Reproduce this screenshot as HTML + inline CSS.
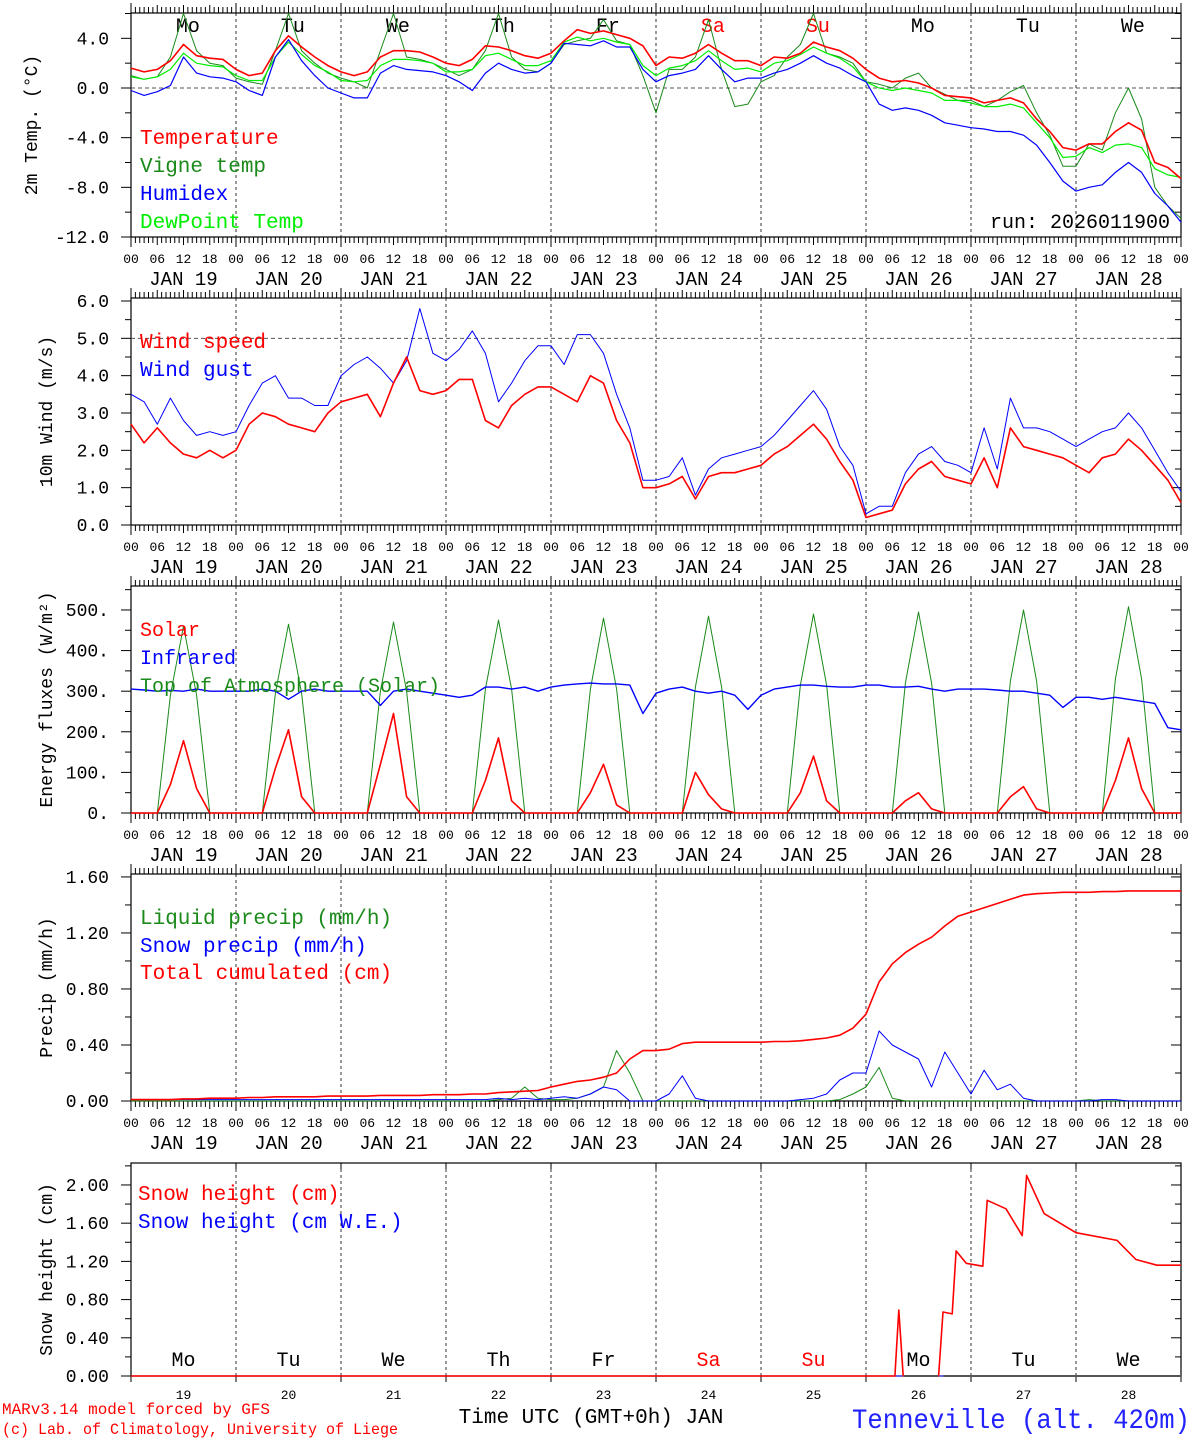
<!DOCTYPE html>
<html><head><meta charset="utf-8">
<style>
html,body{margin:0;padding:0;background:#fff;}
svg{display:block;font-family:"Liberation Mono",monospace;}
</style></head>
<body>
<svg id="chart" width="1194" height="1440" viewBox="0 0 1194 1440" xmlns="http://www.w3.org/2000/svg"></svg>
<script>
// ---------- DATA (3-hourly from Jan 19 00 UTC, 81 points) ----------
const days = ["19","20","21","22","23","24","25","26","27","28"];
const weekdays = ["Mo","Tu","We","Th","Fr","Sa","Su","Mo","Tu","We"];
const weekdayRed = [false,false,false,false,false,true,true,false,false,false];

const temperature = [1.6,1.3,1.5,2.2,3.5,2.6,2.4,2.3, 1.5,1.0,1.2,3.0,4.2,3.3,2.5,1.8, 1.3,1.0,1.3,2.5,3.0,3.0,2.9,2.5, 2.0,1.8,2.3,3.4,3.3,3.0,2.6,2.4, 2.8,3.8,4.7,4.4,4.6,4.3,4.0,3.4, 1.8,2.5,2.4,2.8,3.5,2.8,2.2,2.2, 1.8,2.5,2.4,2.8,3.7,3.3,3.0,2.4, 1.5,0.8,0.5,0.6,0.4,0.0,-0.6,-0.7, -0.8,-1.2,-1.0,-0.8,-1.2,-2.5,-3.5,-4.8, -5.0,-4.5,-4.5,-3.5,-2.8,-3.4,-6.0,-6.4, -7.3];
const vigneTemp = [1.0,0.7,0.9,2.5,6.0,3.0,2.0,1.8, 0.8,0.5,0.3,3.0,6.0,3.0,2.0,1.2, 0.8,0.5,0.0,3.0,6.0,2.5,2.3,2.0, 1.5,1.0,1.5,3.0,6.0,2.5,1.5,1.3, 2.0,3.5,3.8,4.0,5.5,3.8,3.5,1.0, -2.0,1.5,1.5,2.5,5.5,1.5,-1.5,-1.3, 0.5,1.0,2.5,3.5,6.0,2.8,2.5,2.0, 0.5,0.3,0.0,0.8,1.2,0.0,-0.5,-1.0, -1.0,-1.5,-1.0,-0.3,0.2,-2.0,-3.8,-6.3, -6.3,-4.5,-5.0,-2.0,0.0,-2.5,-8.0,-9.5, -10.5];
const humidex = [-0.2,-0.6,-0.3,0.2,2.5,1.2,0.9,0.8, 0.5,-0.2,-0.6,2.5,3.9,2.2,1.0,0.0, -0.4,-0.8,-0.8,1.2,1.8,1.5,1.4,1.3, 1.0,0.5,-0.2,1.2,2.0,1.5,1.2,1.3, 2.0,3.6,3.5,3.4,3.8,3.3,3.3,1.5, 0.5,1.0,1.2,1.5,2.6,1.5,0.5,0.8, 0.8,1.2,1.5,2.0,2.6,2.0,1.6,1.0, 0.5,-1.3,-1.8,-1.6,-1.8,-2.2,-2.8,-3.0, -3.2,-3.3,-3.5,-3.5,-3.8,-4.6,-6.0,-7.5, -8.3,-8.0,-7.8,-6.8,-6.0,-6.8,-8.5,-9.5, -10.8];
const dewPoint = [0.9,0.7,0.9,1.5,2.8,2.0,1.8,1.7, 1.0,0.6,0.6,2.5,3.7,2.7,1.8,1.3, 0.6,0.5,0.6,1.8,2.3,2.3,2.2,2.0, 1.3,1.3,1.5,2.6,2.8,2.3,1.8,1.8, 2.2,3.7,4.1,3.8,4.0,3.7,3.5,1.8, 1.0,1.6,1.8,2.2,3.0,2.2,1.5,1.6, 1.3,2.0,2.2,2.7,3.3,2.8,2.4,1.7, 0.5,0.0,-0.2,0.0,-0.2,-0.4,-1.0,-1.0, -1.2,-1.5,-1.5,-1.3,-1.6,-2.8,-4.0,-5.6, -5.5,-4.8,-5.2,-4.6,-4.5,-4.8,-6.5,-7.0, -7.2];

const windSpeed = [2.7,2.2,2.6,2.2,1.9,1.8,2.0,1.8, 2.0,2.7,3.0,2.9,2.7,2.6,2.5,3.0, 3.3,3.4,3.5,2.9,3.8,4.5,3.6,3.5, 3.6,3.9,3.9,2.8,2.6,3.2,3.5,3.7, 3.7,3.5,3.3,4.0,3.8,2.8,2.2,1.0, 1.0,1.1,1.3,0.7,1.3,1.4,1.4,1.5, 1.6,1.9,2.1,2.4,2.7,2.3,1.7,1.2, 0.2,0.3,0.4,1.1,1.5,1.7,1.3,1.2, 1.1,1.8,1.0,2.6,2.1,2.0,1.9,1.8, 1.6,1.4,1.8,1.9,2.3,2.0,1.6,1.2, 0.6];
const windGust = [3.5,3.3,2.7,3.4,2.8,2.4,2.5,2.4, 2.5,3.2,3.8,4.0,3.4,3.4,3.2,3.2, 4.0,4.3,4.5,4.2,3.8,4.4,5.8,4.6, 4.4,4.7,5.2,4.6,3.3,3.8,4.4,4.8, 4.8,4.3,5.1,5.1,4.6,3.5,2.6,1.2, 1.2,1.3,1.8,0.8,1.5,1.8,1.9,2.0, 2.1,2.4,2.8,3.2,3.6,3.1,2.1,1.6, 0.3,0.5,0.5,1.4,1.9,2.1,1.7,1.6, 1.4,2.6,1.5,3.4,2.6,2.6,2.5,2.3, 2.1,2.3,2.5,2.6,3.0,2.6,2.0,1.4, 0.9];

const solar = [0,0,0,70,178,60,0,0, 0,0,0,110,205,40,0,0, 0,0,0,120,245,40,0,0, 0,0,0,80,185,30,0,0, 0,0,0,50,120,20,0,0, 0,0,0,100,45,10,0,0, 0,0,0,50,140,30,0,0, 0,0,0,30,50,10,0,0, 0,0,0,40,65,10,0,0, 0,0,0,80,185,60,0,0, 0];
const infrared = [305,303,300,302,300,305,300,300, 300,300,305,300,280,300,305,300, 300,300,300,265,300,305,300,295, 290,285,290,310,310,305,310,300, 310,315,318,320,318,318,315,245, 295,305,310,300,295,300,290,255, 290,305,310,315,315,312,310,310, 315,315,310,310,312,305,300,305, 305,305,303,300,300,295,290,260, 285,285,280,285,280,275,270,210, 205];
const toaSolar = [0,0,0,290,460,290,0,0, 0,0,0,295,465,295,0,0, 0,0,0,300,470,300,0,0, 0,0,0,305,475,305,0,0, 0,0,0,305,480,305,0,0, 0,0,0,310,485,310,0,0, 0,0,0,315,490,315,0,0, 0,0,0,320,495,320,0,0, 0,0,0,325,500,325,0,0, 0,0,0,330,508,330,0,0, 0];

const liquidPrecip = [0,0,0,0,0,0,0,0, 0,0,0,0,0,0,0,0, 0,0,0,0,0,0,0,0, 0,0,0,0,0.01,0.02,0.1,0.02, 0.01,0.01,0.02,0.05,0.1,0.36,0.2,0, 0,0,0,0,0,0,0,0, 0,0,0,0,0,0,0.01,0.05, 0.1,0.24,0.02,0,0,0,0,0, 0,0,0,0,0,0,0,0, 0,0.01,0,0,0,0,0,0, 0];
const snowPrecip = [0.01,0.01,0.01,0.01,0.01,0.01,0.01,0.01, 0.01,0.01,0.01,0.01,0.01,0.01,0.01,0.01, 0.01,0.01,0.01,0.01,0.01,0.01,0.01,0.01, 0.01,0.01,0.01,0.01,0.02,0.01,0.02,0.01, 0.02,0.03,0.02,0.05,0.1,0.08,0.0,0.0, 0,0.05,0.18,0.02,0,0,0,0, 0,0,0,0.01,0.02,0.05,0.15,0.2, 0.2,0.5,0.4,0.35,0.3,0.1,0.35,0.2, 0.05,0.22,0.08,0.12,0.02,0,0,0, 0,0,0.01,0.01,0,0,0,0, 0];
const totalCumul = [0.01,0.01,0.01,0.01,0.015,0.015,0.02,0.02, 0.02,0.025,0.025,0.03,0.03,0.03,0.03,0.035, 0.035,0.035,0.035,0.04,0.04,0.04,0.04,0.045, 0.045,0.045,0.05,0.05,0.06,0.065,0.07,0.075, 0.1,0.12,0.14,0.15,0.17,0.2,0.3,0.36, 0.36,0.37,0.41,0.42,0.42,0.42,0.42,0.42, 0.42,0.425,0.425,0.43,0.44,0.45,0.47,0.52, 0.62,0.85,0.98,1.06,1.12,1.17,1.25,1.32, 1.35,1.38,1.41,1.44,1.47,1.48,1.485,1.49, 1.49,1.49,1.495,1.495,1.5,1.5,1.5,1.5, 1.5];

// snow height: irregular times (hours since Jan 19 00) and values (cm)
const snowHours = [0,174.6,175.5,176.5,184.6,185.6,187.7,188.6,190.9,194.7,195.7,200,203.7,204.7,208.7,216,225.4,229.7,234.5,240];
const snowHeight = [0,0,0.69,0,0,0.67,0.65,1.31,1.18,1.15,1.84,1.75,1.47,2.1,1.7,1.5,1.42,1.22,1.16,1.16];
const snowWE = [0,0,0,0,0,0,0,0,0,0,0,0,0,0,0,0,0,0,0,0];

const p1Ticks = ["4.0","0.0","-4.0","-8.0","-12.0"];
const p2Ticks = ["0.0","1.0","2.0","3.0","4.0","5.0","6.0"];
const p3Ticks = ["0.","100.","200.","300.","400.","500."];
const p4Ticks = ["0.00","0.40","0.80","1.20","1.60"];
const p5Ticks = ["0.00","0.40","0.80","1.20","1.60","2.00"];

// ---------- RENDER ----------
const NS="http://www.w3.org/2000/svg";
const svg=document.getElementById('chart');
const X0=131,X1=1181,HRS=240;
function xh(h){return X0+(X1-X0)*h/HRS;}
function mk(tag,attrs,parent){const e=document.createElementNS(NS,tag);for(const k in attrs)e.setAttribute(k,attrs[k]);(parent||svg).appendChild(e);return e;}
function txt(s,x,y,size,fill,anchor,extra){const e=mk('text',Object.assign({x:x,y:y,'font-size':size,fill:fill||'#000','text-anchor':anchor||'middle'},extra||{}));e.textContent=s;return e;}

const panels=[
 {top:13,bottom:237,min:-12,max:6.04,label:"2m Temp. (°C)",ticks:p1Ticks,minor:2},
 {top:298,bottom:525,min:0,max:6.08,label:"10m Wind (m/s)",ticks:p2Ticks,minor:0.5},
 {top:586,bottom:813,min:0,max:559,label:"Energy fluxes (W/m²)",ticks:p3Ticks,minor:50},
 {top:874,bottom:1101,min:0,max:1.621,label:"Precip (mm/h)",ticks:p4Ticks,minor:0.2},
 {top:1163,bottom:1376,min:0,max:2.23,label:"Snow height (cm)",ticks:p5Ticks,minor:0.2}
];
function yv(p,v){return p.bottom-(v-p.min)/(p.max-p.min)*(p.bottom-p.top);}

function series(p,arr,color,w,hours){
  let d='';
  arr.forEach((v,i)=>{const h=hours?hours[i]:i*3;d+=(i?'L':'M')+xh(h).toFixed(1)+','+yv(p,v).toFixed(1);});
  return mk('path',{d:d,fill:'none',stroke:color,'stroke-width':w,'stroke-linejoin':'round'});
}

panels.forEach((p,pi)=>{
  const g=mk('g',{});
  
  
  for(let d=1;d<10;d++){const l=mk('line',{x1:xh(d*24),x2:xh(d*24),y1:p.top,y2:p.bottom,stroke:'#333','stroke-width':1,'stroke-dasharray':'3,3'},g);}
  const fr=mk('rect',{x:X0,y:p.top,width:X1-X0,height:p.bottom-p.top,fill:'none',stroke:'#000','stroke-width':1.2},g);
  
  for(let h=0;h<=240;h++){
    const x=xh(h);const big=h%24===0;const six=h%6===0;
    const len=big?10:(six?8:6);
    if(pi<4){mk('line',{x1:x,x2:x,y1:p.top,y2:p.top-len,stroke:'#000','stroke-width':1},g);}
    else if(big){mk('line',{x1:x,x2:x,y1:p.top,y2:p.top+6,stroke:'#000','stroke-width':1},g);}
    if(pi<4){mk('line',{x1:x,x2:x,y1:p.bottom,y2:p.bottom+len,stroke:'#000','stroke-width':1},g);}
    else if(big){mk('line',{x1:x,x2:x,y1:p.bottom,y2:p.bottom+6,stroke:'#000','stroke-width':1},g);}
  }
  for(let v=p.min;v<=p.max+1e-9;v+=p.minor){
    const y=yv(p,v);
    const major=p.ticks.some(t=>Math.abs(parseFloat(t)-v)<1e-6);
    mk('line',{x1:X0,x2:X0-(major?10:6),y1:y,y2:y,stroke:'#000','stroke-width':1},g);
    mk('line',{x1:X1,x2:X1-(major?10:6),y1:y,y2:y,stroke:'#000','stroke-width':1},g);
  }
  p.ticks.forEach(t=>{const e=txt(t,109,yv(p,parseFloat(t))+6,18,'#000','end');});
  const cy=(p.top+p.bottom)/2;
  const yl=txt(p.label,0,0,18,'#000','middle',{transform:`translate(${pi===0?37:52},${cy}) rotate(-90)`});
  
  if(pi<4){
    for(let h=0;h<=240;h+=6){const e=txt(['00','06','12','18'][(h/6)%4],xh(h),p.bottom+26,13,'#000','middle');}
    days.forEach((d,i)=>{const e=txt('JAN '+d,xh(i*24+12),p.bottom+48,19,'#000','middle');});
  }
});

const r1=mk('line',{x1:X0,x2:X1,y1:yv(panels[0],0),y2:yv(panels[0],0),stroke:'#555','stroke-dasharray':'4,3'});

const r2=mk('line',{x1:X0,x2:X1,y1:yv(panels[1],5),y2:yv(panels[1],5),stroke:'#555','stroke-dasharray':'4,3'});


weekdays.forEach((w,i)=>{const e=txt(w,xh(i*24+13),32,20,weekdayRed[i]?'#f00':'#000','middle');});

let s;
s=series(panels[0],vigneTemp,'#1a8a1a',1);
s=series(panels[0],dewPoint,'#00ee00',1.2);
s=series(panels[0],humidex,'#0000ff',1.2);
s=series(panels[0],temperature,'#ff0000',1.6);
[["Temperature","#f00",144],["Vigne temp","#1a8a1a",172],["Humidex","#00f",200],["DewPoint Temp","#0e0",228]].forEach(a=>{const e=txt(a[0],140,a[2],21,a[1],'start');});
s=txt('run: 2026011900',1170,228,20,'#000','end');

s=series(panels[1],windGust,'#0000ff',1);
s=series(panels[1],windSpeed,'#ff0000',1.6);
[["Wind speed","#f00",348],["Wind gust","#00f",376]].forEach(a=>{const e=txt(a[0],140,a[2],21,a[1],'start');});

s=series(panels[2],toaSolar,'#1a8a1a',1);
s=series(panels[2],infrared,'#0000ff',1.4);
s=series(panels[2],solar,'#ff0000',1.6);
[["Solar","#f00",636],["Infrared","#00f",664],["Top of Atmosphere (Solar)","#1a8a1a",692]].forEach(a=>{const e=txt(a[0],140,a[2],20,a[1],'start');});

s=series(panels[3],liquidPrecip,'#1a8a1a',1);
s=series(panels[3],snowPrecip,'#0000ff',1);
s=series(panels[3],totalCumul,'#ff0000',1.6);
[["Liquid precip (mm/h)","#1a8a1a",924],["Snow precip (mm/h)","#00f",952],["Total cumulated (cm)","#f00",979]].forEach(a=>{const e=txt(a[0],140,a[2],21,a[1],'start');});

s=series(panels[4],snowWE,'#0000ff',1,snowHours);
s=series(panels[4],snowHeight,'#ff0000',1.6,snowHours);
s=mk('line',{x1:xh(176.6),x2:xh(184.5),y1:panels[4].bottom,y2:panels[4].bottom,stroke:'#555','stroke-width':2});

s=mk('line',{x1:xh(185.7),x2:X1,y1:panels[4].bottom,y2:panels[4].bottom,stroke:'#555','stroke-width':2});

[["Snow height (cm)","#f00",1200],["Snow height (cm W.E.)","#00f",1228]].forEach(a=>{const e=txt(a[0],138,a[2],21,a[1],'start');});
weekdays.forEach((w,i)=>{const e=txt(w,xh(i*24+12),1366,20,weekdayRed[i]?'#f00':'#000','middle');});
days.forEach((d,i)=>{const e=txt(d,xh(i*24+12),1399,13,'#000','middle');});

s=txt('Time UTC (GMT+0h) JAN',591,1423,21,'#000','middle');
s=txt('MARv3.14 model forced by GFS',2,1414,16,'#f00','start',{textLength:268,lengthAdjust:'spacingAndGlyphs'});
s=txt('(c) Lab. of Climatology, University of Liege',2,1434,16,'#f00','start',{textLength:396,lengthAdjust:'spacingAndGlyphs'});
s=txt('Tenneville (alt. 420m)',1190,1428,28,'#22f','end',{textLength:338,lengthAdjust:'spacingAndGlyphs'});
</script>
</body></html>
